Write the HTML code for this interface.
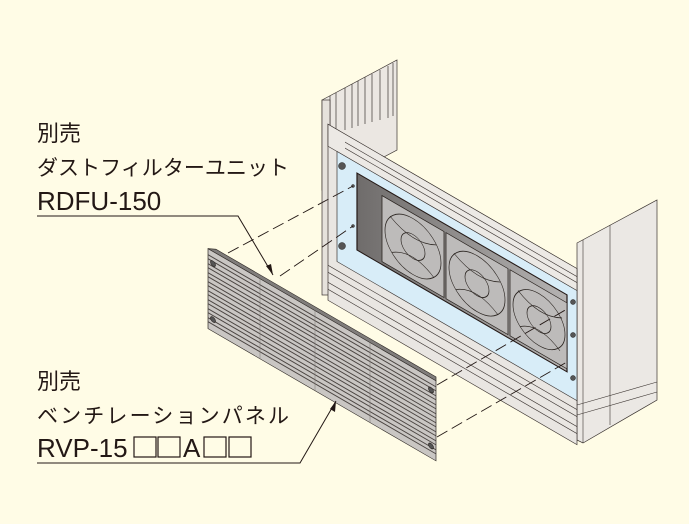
<!DOCTYPE html>
<html><head><meta charset="utf-8"><style>
html,body{margin:0;padding:0;background:#fffce6;}
svg{display:block}
text{font-family:"Liberation Sans","Noto Sans CJK JP",sans-serif;fill:#231815}
</style></head><body>
<svg width="689" height="524" viewBox="0 0 689 524" xmlns="http://www.w3.org/2000/svg">
<defs>
<linearGradient id="op" x1="0" y1="0" x2="1" y2="0"><stop offset="0" stop-color="#6f6c6b"/><stop offset="1" stop-color="#b5b3b2"/></linearGradient>
</defs>
<rect width="689" height="524" fill="#fffce6"/>
<g stroke="#3a3330" stroke-width="0.7" fill="#ebe7e2">
<polygon points="322,100 397,60 397,150 322,190"/>
<g fill="none">
<line x1="330" y1="96" x2="330" y2="290"/><line x1="336" y1="93" x2="336" y2="140"/>
<line x1="345" y1="88" x2="345" y2="130"/><line x1="352" y1="84" x2="352" y2="128"/>
<line x1="358" y1="81" x2="358" y2="126"/><line x1="365" y1="77" x2="365" y2="124"/>
<line x1="372" y1="74" x2="372" y2="122"/><line x1="380" y1="70" x2="380" y2="120"/>
<line x1="388" y1="66" x2="388" y2="118"/><line x1="393" y1="63" x2="393" y2="116"/>
</g>
<rect x="322" y="100" width="8" height="195" fill="#e6e2dc"/>
</g>
<polygon points="577,243 657,200 657,400 583,443 577,440" fill="#ebe8e4" stroke="#3a3330" stroke-width="0.7"/>
<line x1="610" y1="225" x2="610" y2="425" stroke="#3a3330" stroke-width="0.6"/>
<line x1="583" y1="240" x2="583" y2="443" stroke="#3a3330" stroke-width="0.6"/>
<polyline points="577,405 657,382" fill="none" stroke="#3a3330" stroke-width="0.6"/>
<polyline points="577,415 657,392" fill="none" stroke="#3a3330" stroke-width="0.6"/>
<g transform="matrix(1,0.58,0,1,0,0)" stroke="#3a3330" stroke-width="0.7">
<rect x="328" y="-66" width="249" height="176" fill="#e9e6e2"/>
<rect x="328" y="-66" width="249" height="22" fill="#ece9e5"/>
<line x1="345" y1="-58" x2="577" y2="-58" fill="none"/>
<line x1="345" y1="-52" x2="577" y2="-52" fill="none"/>
<rect x="337" y="-44" width="240" height="110" fill="#d8edf8"/>
<g fill="none">
<line x1="328" y1="75" x2="577" y2="75"/><line x1="328" y1="82" x2="577" y2="82"/>
<line x1="328" y1="92" x2="577" y2="92"/><line x1="328" y1="99" x2="577" y2="99"/>
</g>
<rect x="357" y="-34" width="210" height="77" fill="url(#op)" stroke="#231815" stroke-width="1.2"/>
<g fill="#bdbbba" stroke="#2a2420" stroke-width="0.8">
<rect x="382" y="-26" width="62" height="66"/>
<rect x="446" y="-26" width="62" height="66"/>
<rect x="510" y="-26" width="57" height="66"/>
</g>
<g fill="none" stroke="#2a2420" stroke-width="0.7">
<circle cx="413" cy="7" r="28"/><circle cx="413" cy="7" r="12"/><path d="M390,-10 Q413,5 436,-8 M392,25 Q413,10 434,26"/>
<circle cx="477" cy="7" r="28"/><circle cx="477" cy="7" r="12"/><path d="M454,-10 Q477,5 500,-8 M456,25 Q477,10 498,26"/>
<circle cx="539" cy="7" r="26"/><circle cx="539" cy="7" r="12"/><path d="M518,-10 Q539,5 562,-8 M520,25 Q539,10 560,26"/>
</g>
</g>
<g fill="#555" stroke="#222" stroke-width="0.5">
<circle cx="342" cy="166" r="3.5"/><circle cx="342" cy="246" r="3.5"/>
<circle cx="353" cy="186" r="1.5"/><circle cx="353" cy="226" r="1.5"/>
<circle cx="573" cy="302" r="2.5"/><circle cx="573" cy="335" r="2.5"/><circle cx="573" cy="378" r="2.5"/>
</g>
<g stroke="#231815" stroke-width="0.9" stroke-dasharray="12,5" fill="none">
<line x1="228" y1="253" x2="353" y2="186"/>
<line x1="280" y1="276" x2="353" y2="226"/>
<line x1="437" y1="385" x2="567" y2="309"/>
<line x1="437" y1="437" x2="567" y2="362"/>
</g>
<g transform="matrix(1,0.58,0,1,0,0)" stroke="#2f2a27" stroke-width="0.7">
<polygon points="216,124 436,124 436,128 208,128" fill="#807d7b"/>
<rect x="208" y="128" width="228" height="80" fill="#c9c6c3"/>
<g fill="none" stroke="#4a4441" stroke-width="1.1">
<line x1="208" y1="134" x2="436" y2="134"/><line x1="208" y1="138" x2="436" y2="138"/>
<line x1="208" y1="143" x2="436" y2="143"/><line x1="208" y1="147" x2="436" y2="147"/>
<line x1="208" y1="152" x2="436" y2="152"/><line x1="208" y1="156" x2="436" y2="156"/>
<line x1="208" y1="161" x2="436" y2="161"/><line x1="208" y1="165" x2="436" y2="165"/>
<line x1="208" y1="170" x2="436" y2="170"/><line x1="208" y1="174" x2="436" y2="174"/>
<line x1="208" y1="179" x2="436" y2="179"/><line x1="208" y1="183" x2="436" y2="183"/>
<line x1="208" y1="188" x2="436" y2="188"/><line x1="208" y1="192" x2="436" y2="192"/>
<line x1="208" y1="197" x2="436" y2="197"/><line x1="208" y1="201" x2="436" y2="201"/>
</g>
<g fill="none" stroke="#7a7572" stroke-width="0.5">
<line x1="260" y1="128" x2="260" y2="208"/><line x1="315" y1="128" x2="315" y2="208"/><line x1="370" y1="128" x2="370" y2="208"/>
</g>
<g fill="#555"><circle cx="213" cy="140" r="2.5"/><circle cx="213" cy="196" r="2.5"/><circle cx="431" cy="140" r="2.5"/><circle cx="431" cy="196" r="2.5"/></g>
</g>
<text x="37" y="141" font-size="22">別売</text>
<text x="37" y="175" font-size="21" textLength="252">ダストフィルターユニット</text>
<text x="37" y="210" font-size="26">RDFU-150</text>
<polyline points="37,216 238,216 273,275" fill="none" stroke="#231815" stroke-width="1"/>
<polygon points="273,275 266,266 271,264" fill="#231815"/>
<text x="37" y="389" font-size="22">別売</text>
<text x="37" y="423" font-size="21" textLength="252">ベンチレーションパネル</text>
<text x="37" y="457" font-size="26">RVP-15</text>
<text x="183" y="457" font-size="26">A</text>
<g fill="none" stroke="#231815" stroke-width="1.2">
<rect x="134" y="437" width="22" height="20"/><rect x="158" y="437" width="22" height="20"/>
<rect x="204" y="437" width="22" height="20"/><rect x="229" y="437" width="22" height="20"/>
</g>
<polyline points="37,463 300,463 336,401" fill="none" stroke="#231815" stroke-width="1"/>
<polygon points="336,401 335,412 330,409" fill="#231815"/>
</svg>
</body></html>
